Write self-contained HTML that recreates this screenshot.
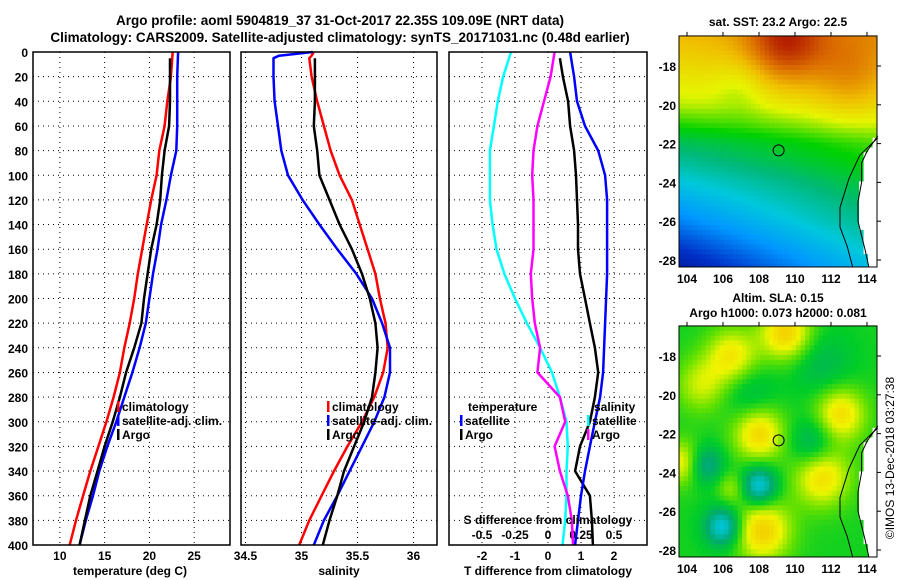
<!DOCTYPE html>
<html><head><meta charset="utf-8"><style>
body{margin:0;background:#fff}
svg{display:block;font-family:"Liberation Sans",sans-serif;font-weight:bold;font-size:12px}
</style></head><body>
<svg id="c" width="900" height="580"></svg>
<script>
const depths=[0,20,40,60,80,100,120,140,160,180,200,220,240,260,280,300,320,340,360,380,400];
const tempClim=[22.6,22.4,22.0,21.7,21.1,20.8,20.2,19.7,19.2,18.7,18.3,17.8,17.2,16.7,16.0,15.2,14.3,13.4,12.6,11.8,11.1];
const tempArgo=[22.3,22.3,22.3,22.2,21.7,21.4,21.2,20.8,20.2,19.8,19.4,19.1,18.3,17.4,16.7,15.9,15.0,14.2,13.4,12.8,12.2];
const tempSat=[23.2,23.1,23.1,23.1,23.0,22.4,21.9,21.3,20.9,20.4,20.0,19.6,18.9,18.1,17.2,16.3,15.3,14.4,13.7,12.9,12.2];
const salDepths=[0,3,5,20,40,60,80,100,120,140,160,180,200,220,240,260,280,300,320,340,360,380,400];
const salClim=[35.11,35.09,35.07,35.09,35.14,35.20,35.26,35.34,35.45,35.52,35.59,35.66,35.70,35.75,35.77,35.73,35.65,35.54,35.41,35.29,35.18,35.07,34.98];
const salSat=[35.10,34.80,34.75,34.75,34.76,34.79,34.82,34.88,35.01,35.16,35.32,35.49,35.63,35.72,35.79,35.79,35.74,35.65,35.54,35.43,35.32,35.20,35.11];
const salArgo=[35.12,35.12,35.12,35.12,35.12,35.11,35.14,35.16,35.25,35.34,35.45,35.54,35.61,35.66,35.68,35.66,35.63,35.56,35.47,35.38,35.32,35.25,35.19];
const dTSat=[0.67,0.79,0.88,1.12,1.52,1.73,1.79,1.79,1.79,1.79,1.76,1.73,1.70,1.67,1.58,1.42,1.27,1.12,1.0,0.91,0.82];
const dTArgo=[0.36,0.45,0.61,0.67,0.79,0.85,0.88,0.91,0.91,0.97,1.12,1.27,1.42,1.52,1.42,1.27,0.97,0.82,1.27,1.33,1.36];
const dSSat=[-0.28,-0.34,-0.38,-0.41,-0.44,-0.44,-0.44,-0.42,-0.39,-0.33,-0.25,-0.16,-0.06,0.03,0.09,0.14,0.15,0.14,0.14,0.13,0.11];
const dSArgo=[0.05,0.02,-0.03,-0.08,-0.11,-0.12,-0.11,-0.11,-0.11,-0.13,-0.12,-0.10,-0.06,-0.08,0.09,0.13,0.05,0.09,0.15,0.18,0.19];
const tTicks=[10,15,20,25], sTicks=[34.5,35,35.5,36], dTicks=[-2,-1,0,1,2], dsTicks=["-0.5","-0.25","0","0.25","0.5"];
const depthTicks=[0,20,40,60,80,100,120,140,160,180,200,220,240,260,280,300,320,340,360,380,400];

const svg=document.getElementById('c');const NS="http://www.w3.org/2000/svg";
function mk(tag,a,name,par){const e=document.createElementNS(NS,tag);for(const k in a)e.setAttribute(k,a[k]);


(par||svg).appendChild(e);return e;}
function txt(x,y,s,name,anchor,extra){const t=mk('text',Object.assign({x:x,y:y,'text-anchor':anchor||'middle'},extra||{}),name);t.textContent=s;return t;}
const TOP=52,BOT=545;
const yD=d=>TOP+(d/400)*(BOT-TOP);
const panels=[{x0:33,x1:230,min:7,max:29},{x0:241,x1:437,min:34.46,max:36.21},{x0:449,x1:647,min:-3,max:3}];
const xf=p=>v=>p.x0+(v-p.min)/(p.max-p.min)*(p.x1-p.x0);
const xT=xf(panels[0]),xS=xf(panels[1]),xD=xf(panels[2]);
const xDS=v=>xD(v*4);
panels.forEach((p,i)=>{
  depthTicks.slice(1,-1).forEach(d=>{mk('line',{x1:p.x0,x2:p.x1,y1:yD(d),y2:yD(d),stroke:'#000','stroke-width':1,'stroke-dasharray':'1,4'},'grid-h-p'+(i+1));});
});
tTicks.forEach(v=>{mk('line',{x1:xT(v),x2:xT(v),y1:TOP,y2:BOT,stroke:'#000','stroke-dasharray':'1,4'},'grid-v-temp');txt(xT(v),560,v,'temp-tick-label');});
sTicks.forEach(v=>{mk('line',{x1:xS(v),x2:xS(v),y1:TOP,y2:BOT,stroke:'#000','stroke-dasharray':'1,4'},'grid-v-sal');txt(xS(v),560,v,'sal-tick-label');});
dTicks.forEach(v=>{mk('line',{x1:xD(v),x2:xD(v),y1:TOP,y2:BOT,stroke:'#000','stroke-dasharray':'1,4'},'grid-v-diff');txt(xD(v),560,v,'tdiff-tick-label');});
dsTicks.forEach((s,i)=>{txt(xDS(+s),539,s,'sdiff-tick-label');});
depthTicks.forEach(d=>txt(28,yD(d)+5,d,'depth-tick-label','end'));
function line(xs,ys,xfn,color,name,w){mk('polyline',{points:xs.map((v,i)=>xfn(v).toFixed(1)+','+yD(ys[i]).toFixed(1)).join(' '),fill:'none',stroke:color,'stroke-width':w||2.5,'stroke-linejoin':'round'},name);}
line(tempClim,depths,xT,'#f00','temp-climatology-line');
line(tempSat,depths,xT,'#00f','temp-satellite-line');
line(tempArgo.slice(0),depths.map((d,i)=>i?d:5),xT,'#000','temp-argo-line');
line(salClim,salDepths,xS,'#f00','sal-climatology-line');
line(salSat,salDepths,xS,'#00f','sal-satellite-line');
line(salArgo.slice(2),salDepths.slice(2),xS,'#000','sal-argo-line');
line(dSSat,depths,xDS,'#0ff','sdiff-satellite-line');
line(dSArgo,depths,xDS,'#f0f','sdiff-argo-line');
line(dTArgo,depths.map((d,i)=>i?d:5),xD,'#000','tdiff-argo-line');
line(dTSat,depths,xD,'#00f','tdiff-satellite-line');
panels.forEach((p,i)=>mk('rect',{x:p.x0,y:TOP,width:p.x1-p.x0,height:BOT-TOP,fill:'none',stroke:'#000','stroke-width':1.5},'panel-frame-'+(i+1)));
function leg(x,y,c,s,name){mk('rect',{x:x,y:y-10,width:2.5,height:11,fill:c},name+'-marker');txt(x+5,y,s,name,'start');}
leg(117,411,'#f00','climatology','legend-temp-climatology');leg(117,425,'#00f','satellite-adj. clim.','legend-temp-satellite');leg(117,439,'#000','Argo','legend-temp-argo');
leg(327,411,'#f00','climatology','legend-sal-climatology');leg(327,425,'#00f','satellite-adj. clim.','legend-sal-satellite');leg(327,439,'#000','Argo','legend-sal-argo');
txt(468,411,'temperature','legend-temp-title','start');leg(460,425,'#00f','satellite','legend-tdiff-satellite');leg(460,439,'#000','Argo','legend-tdiff-argo');
txt(594,411,'salinity','legend-sal-title','start');leg(587,425,'#0ff','satellite','legend-sdiff-satellite');leg(587,439,'#f0f','Argo','legend-sdiff-argo');
txt(548,524,'S difference from climatology','sdiff-axis-title');
txt(130,575,'temperature (deg C)','temp-axis-title');txt(339,575,'salinity','sal-axis-title');txt(548,575,'T difference from climatology','tdiff-axis-title');
txt(340,25,'Argo profile: aoml 5904819_37 31-Oct-2017 22.35S 109.09E (NRT data)','title-line-1',null,{'font-size':'13.5px'});
txt(340,42,'Climatology: CARS2009. Satellite-adjusted climatology: synTS_20171031.nc (0.48d earlier)','title-line-2',null,{'font-size':'13.5px'});
const lonX=L=>687+18*(L-104);
const latY=(lat,off)=>off+66+19.4*(-18-lat);
function interp(stops,v){v=Math.max(0,Math.min(1,v));for(let i=1;i<stops.length;i++){if(v<=stops[i][0]){const a=stops[i-1],b=stops[i],t=(v-a[0])/(b[0]-a[0]);return 'rgb('+[0,1,2].map(k=>Math.round(a[1][k]+(b[1][k]-a[1][k])*t)).join(',')+')';}}return 'rgb('+stops[stops.length-1][1].join(',')+')';}
const jet=[[0,[0,0,120]],[0.15,[0,50,200]],[0.27,[0,150,255]],[0.37,[0,200,220]],[0.46,[0,185,120]],[0.55,[0,210,0]],[0.66,[230,245,0]],[0.76,[240,190,0]],[0.87,[220,110,0]],[1,[175,20,0]]];
const sla=[[0,[0,200,230]],[0.25,[0,170,110]],[0.45,[0,205,40]],[0.6,[100,225,0]],[0.78,[240,245,0]],[1,[245,190,0]]];
const g=(L,la,cL,cla,s)=>Math.exp(-((L-cL)**2+(la-cla)**2)/(2*s*s));
const coast=la=>{if(la>-21.6)return 999;if(la>-22.5)return 114+(la+22.5)*0.6;if(la>-24)return 113.7;if(la>-26)return 113.5;return 113.6+(-26-la)*0.2;};
const latProf=[[-16,0.8],[-17,0.77],[-20,0.66],[-21,0.6],[-22,0.53],[-23,0.49],[-24,0.44],[-26,0.35],[-28,0.24],[-29,0.2]];
function baseLat(la){for(let i=1;i<latProf.length;i++){if(la>=latProf[i][0]){const a=latProf[i-1],b=latProf[i],t=(la-a[0])/(b[0]-a[0]);return a[1]+(b[1]-a[1])*t;}}return 0.2;}
function sst(L,la){const k=0.004+0.02*Math.max(0,(-la-20))/8;return baseLat(la)+k*(L-109)+0.2*g(L,la,109.5,-16.8,1.5)+0.1*g(L,la,113,-18.5,1.5)-0.04*g(L,la,107,-19,1);}
function slaF(L,la){const B=[[109.5,-16.8,1,0.45],[106.5,-18,1,0.35],[112.5,-21,1,0.4],[108,-22,1,0.42],[111.5,-24.2,1.1,0.4],[108.2,-27,1.1,0.45],[103.8,-23.5,0.8,0.35],[104.8,-19.5,1,0.25],[106.5,-24.8,0.6,0.2],[108,-24.7,0.7,-0.5],[106,-26.8,0.7,-0.5],[105,-23.6,0.7,-0.35],[111,-22.5,0.9,-0.25],[111.5,-18.5,1.2,-0.15],[107.5,-20,1,-0.15]];let v=0.48;B.forEach(b=>v+=b[3]*g(L,la,b[0],b[1],b[2]));return v;}
function map(off,fn,cmap,name){
  const grp=mk('g',{},name);
  const step=0.25;
  for(let L=103.56;L<114.56;L+=step){for(let la=-16.45;la>-28.4;la-=step){
    const cx=L+step/2,cy=la-step/2;const land=cx>coast(cy);
    const x=lonX(L),y=latY(la,off);
    const w=Math.min(18*step+0.6,877-x),h=Math.min(19.4*step+0.6,latY(-28.36,off)-y);
    mk('rect',{x:x.toFixed(1),y:y.toFixed(1),width:w.toFixed(1),height:h.toFixed(1),fill:land?'#fff':interp(cmap,fn(cx,cy))},name+'-cell',grp);}}
  mk('polyline',{points:[[114.6,-21.6],[114,-22.4],[113.7,-23],[113.7,-24],[113.5,-25],[113.5,-26],[113.9,-27.5],[114.1,-28.35]].map(p=>lonX(p[0])+','+latY(p[1],off)).join(' '),fill:'none',stroke:'#000','stroke-width':1},name+'-coastline');
  mk('polyline',{points:[[114.6,-21.7],[113.6,-22.6],[113,-23.8],[112.5,-25.3],[112.5,-26.3],[112.9,-27.3],[113.2,-28.35]].map(p=>lonX(p[0])+','+latY(p[1],off)).join(' '),fill:'none',stroke:'#000','stroke-width':1},name+'-shelf-contour');
  mk('rect',{x:679,y:latY(-16.45,off),width:198,height:latY(-28.36,off)-latY(-16.45,off),fill:'none',stroke:'#000','stroke-width':1},name+'-frame');
  mk('circle',{cx:lonX(109.09),cy:latY(-22.35,off),r:5.5,fill:'none',stroke:'#000','stroke-width':1},name+'-argo-location');
  [-18,-20,-22,-24,-26,-28].forEach(la=>{txt(676,latY(la,off)+5,la,name+'-lat-label','end');mk('line',{x1:877,x2:881,y1:latY(la,off),y2:latY(la,off),stroke:'#000'},name+'-lat-tick');});
  [104,106,108,110,112,114].forEach(L=>{txt(lonX(L),latY(-28.36,off)+16,L,name+'-lon-label');mk('line',{x1:lonX(L),x2:lonX(L),y1:latY(-16.45,off)-4,y2:latY(-16.45,off),stroke:'#000'},name+'-lon-tick');});
}
map(0,sst,jet,'sst-map');
map(290,slaF,sla,'sla-map');
txt(778,26,'sat. SST: 23.2 Argo: 22.5','sst-map-title');
txt(778,302,'Altim. SLA: 0.15','sla-map-title');
txt(778,317,'Argo h1000: 0.073 h2000: 0.081','sla-map-subtitle');
txt(0,0,'©IMOS 13-Dec-2018 03:27:38','imos-timestamp','middle',{transform:'translate(894,458) rotate(-90)','font-weight':'normal'});
</script>
</body></html>
